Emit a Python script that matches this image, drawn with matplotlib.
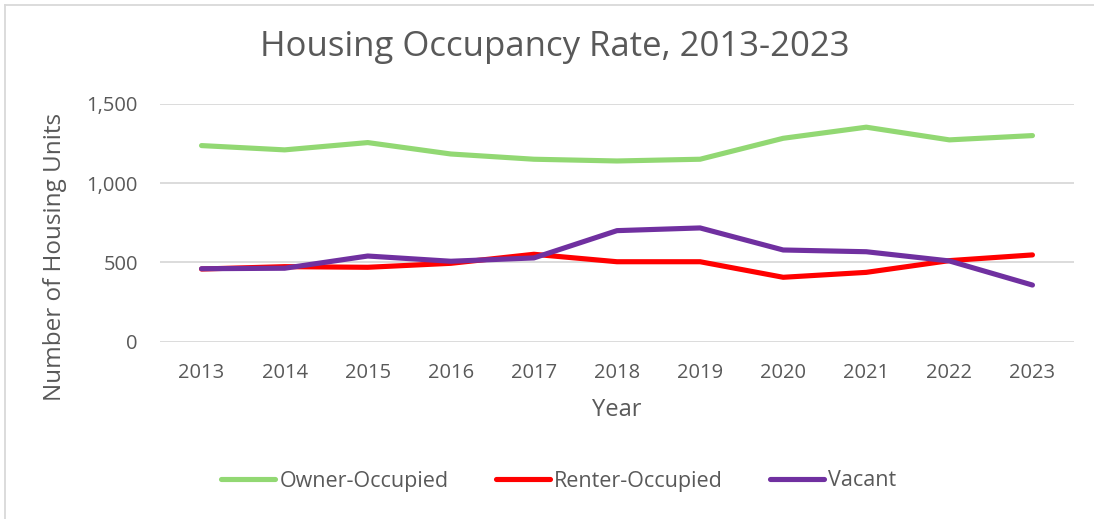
import numpy as np
import matplotlib
matplotlib.use("Agg")
import matplotlib.pyplot as plt
from matplotlib.ticker import FuncFormatter, MultipleLocator
from matplotlib.lines import Line2D

plt.rcParams['font.family'] = ['Open Sans', 'DejaVu Sans']

years = [2013, 2014, 2015, 2016, 2017, 2018, 2019, 2020, 2021, 2022, 2023]
owner = [1236, 1209, 1255, 1183, 1150, 1139, 1150, 1282, 1352, 1272, 1299]
renter = [458, 473, 469, 494, 551, 504, 504, 406, 437, 511, 547]
vacant = [460, 463, 540, 507, 528, 700, 717, 578, 567, 509, 357]

series_names = ["Owner-Occupied", "Renter-Occupied", "Vacant"]
colors = ["#92D873", "#FF0000", "#7030A0"]
txt = "#595959"

W, H = 1094, 519
fig = plt.figure(figsize=(W / 100, H / 100), dpi=100)
# plot area in pixel coords: x 160..1074, y 103.7..341.7
ax = fig.add_axes((160 / W, 1 - 341.7 / H, (1074 - 160) / W, (341.7 - 103.7) / H))

x = np.arange(len(years))
for vals, c, name in zip([owner, renter, vacant], colors, series_names):
    ax.plot(x, vals, color=c, lw=3.7, solid_capstyle='round', solid_joinstyle='round', label=name)

ax.set_xlim(-0.5, len(years) - 0.5)
ax.set_ylim(0, 1500)
ax.yaxis.set_major_locator(MultipleLocator(500))
ax.yaxis.set_major_formatter(FuncFormatter(lambda v, p: f"{int(v):,}"))
ax.set_xticks(x)
ax.set_xticklabels([str(y) for y in years])
ax.grid(axis='y', color='#D9D9D9', lw=1.3)
ax.set_axisbelow(True)
for s in ax.spines.values():
    s.set_visible(False)
ax.tick_params(length=0, labelsize=14.5, colors=txt, pad=15)
ax.tick_params(axis='y', pad=16)

ax.set_xlabel("Year", fontsize=17, color=txt, va='center')
ax.set_ylabel("Number of Housing Units", fontsize=17.5, color=txt, va='center')
ax.xaxis.set_label_coords(0.5, -0.287)
ax.yaxis.set_label_coords(-0.115, 0.356)

fig.text(555 / W, 1 - 47 / H, "Housing Occupancy Rate, 2013-2023", fontsize=25,
         color=txt, ha='center', va='center')

handles = [Line2D([0], [0], color=c, lw=3.7, solid_capstyle='round') for c in colors]
fig.legend(handles, series_names, loc='center', bbox_to_anchor=(559 / W, 1 - 481 / H),
           ncol=3, frameon=False, fontsize=15.5, labelcolor=txt, handlelength=2.5,
           handletextpad=0.2, columnspacing=2.2)

# chart border (left/top visible)
fig.add_artist(Line2D([5 / W, 5 / W], [0, 1 - 5 / H], color='#D9D9D9', lw=1.3, transform=fig.transFigure))
fig.add_artist(Line2D([5 / W, 1], [1 - 5 / H, 1 - 5 / H], color='#D9D9D9', lw=1.3, transform=fig.transFigure))

fig.savefig("out.png", dpi=100)
